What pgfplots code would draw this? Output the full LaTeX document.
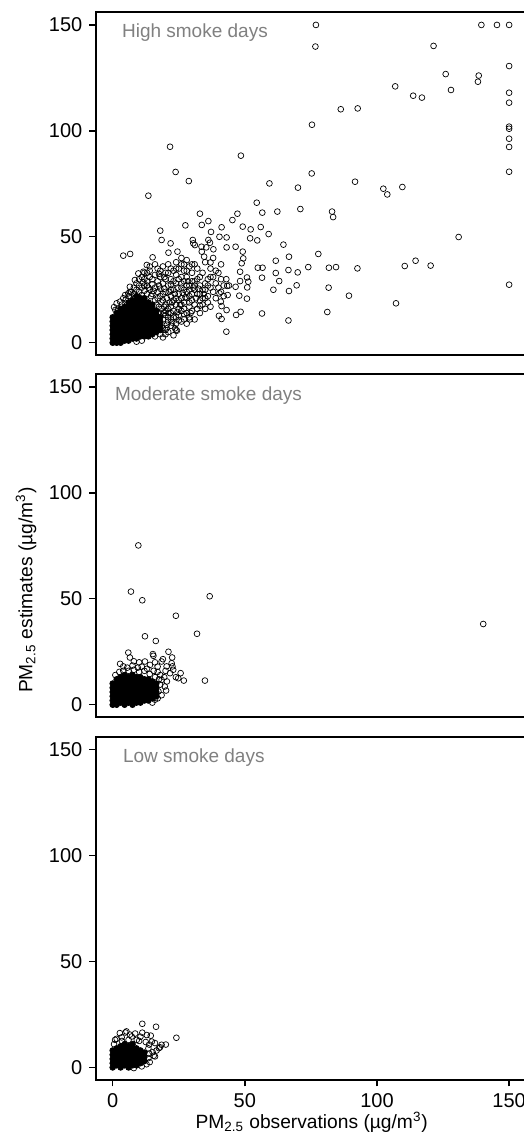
\documentclass[border=0pt]{standalone}
\usepackage{fontspec}
\setmainfont{Liberation Sans}
\usepackage{pgfplots}
\pgfplotsset{compat=1.18}

\definecolor{labgray}{RGB}{128,128,128}

\pgfplotsset{
  smoke/.style={
    scale only axis, width=215.15pt, height=171.5pt,
    anchor=north west,
    xmin=-6.32, xmax=156.5, ymin=-5.8, ymax=156.1,
    ytick={0,50,100,150},
    tick align=outside, xtick pos=left, ytick pos=left,
    axis line style={line width=0.9pt},
    major tick length=3.3pt,
    major tick style={line width=0.7pt, black},
    tick label style={font=\fontsize{10}{12}\selectfont},
    /pgf/number format/assume math mode=true,
  },
  open/.style={only marks, mark=o, mark size=1.45pt,
    mark options={draw=black, line width=0.35pt}},
  dense/.style={only marks, mark=*, mark size=1.45pt,
    mark options={draw=black, fill=black, line width=0.35pt}},
}

\begin{document}
\begin{tikzpicture}

% high smoke days
\begin{axis}[smoke, at={(48pt,-6pt)}, xtick=\empty]
\addplot[dense] coordinates {
(0,0)(0,2)(0,4)(0,6)(0,8)(0,10)(0,12)
(1.5,0)(1.5,2)(1.5,4)(1.5,6)(1.5,8)(1.5,10)(1.5,12)(1.5,14)
(3,0)(3,2)(3,4)(3,6)(3,8)(3,10)(3,12)(3,14)(3,16)
(4.5,1)(4.5,3)(4.5,5)(4.5,7)(4.5,9)(4.5,11)(4.5,13)(4.5,15)(4.5,17)
(6,1)(6,3)(6,5)(6,7)(6,9)(6,11)(6,13)(6,15)(6,17)(6,19)
(7.5,2)(7.5,4)(7.5,6)(7.5,8)(7.5,10)(7.5,12)(7.5,14)(7.5,16)(7.5,18)(7.5,20)
(9,2)(9,4)(9,6)(9,8)(9,10)(9,12)(9,14)(9,16)(9,18)(9,20)(9,22)
(10.5,3)(10.5,5)(10.5,7)(10.5,9)(10.5,11)(10.5,13)(10.5,15)(10.5,17)(10.5,19)(10.5,21)
(12,3)(12,5)(12,7)(12,9)(12,11)(12,13)(12,15)(12,17)(12,19)(12,21)
(13.5,3)(13.5,5)(13.5,7)(13.5,9)(13.5,11)(13.5,13)(13.5,15)(13.5,17)(13.5,19)
(15,4)(15,6)(15,8)(15,10)(15,12)(15,14)(15,16)(15,18)
(16.5,5)(16.5,7)(16.5,9)(16.5,11)(16.5,13)(16.5,15)
(18,6)(18,8)(18,10)(18,12)
};
\addplot[open] coordinates {
(76.9,150)(76.7,139.8)(139.5,150)(145.4,150)(150,150)(121.4,140.1)(150,130.6)
(126,126.8)(138.5,126.1)(138.2,123.2)(128,119.3)(150,118)(150,113.3)(106.9,121)
(113.7,116.6)(117,115.7)(86.3,110.2)(92.7,110.6)(75.4,102.9)(150,102)(150,101)
(150,96.3)(150,92.4)(21.7,92.5)(48.5,88.3)(23.8,80.6)(75.3,79.9)(150,80.7)
(28.8,76.3)(59.3,75.2)(91.7,76)(70.1,73.2)(102.4,72.7)(103.9,70)(109.6,73.5)
(13.5,69.4)(54.5,66.1)(56.6,61.4)(62.3,61.9)(71,63.1)(83,61.9)(83.4,59.3)
(33,60.9)(47.2,60.9)(45.3,57.9)(36.2,57.4)(33.7,55.6)(27.5,55.4)(37.2,52.3)
(41.2,54.5)(49.2,54.8)(52.2,53.5)(56,54.6)(59,51.3)(18,52.9)(40.4,50)(43.1,49.7)
(52,49.3)(54.7,48.3)(36.2,48.5)(18.5,48.5)(130.9,49.9)(150,27.4)(30.3,48.5)
(30.5,46.9)(21.9,46.9)(35.4,45)(38.1,44.1)(43.1,45)(46.5,45.3)(49.2,43)(64.6,46.3)
(21.1,42.5)(24.5,43)(4,41.1)(6.6,41.9)(15.1,40.3)(33.7,43)(34.6,40.6)(37,37.9)
(49.4,39.8)(48.8,37.5)(61.7,38.7)(66.7,40.6)(66.5,34.3)(77.8,41.9)(114.6,38.7)
(110.5,36.2)(120.3,36.4)(74,35.7)(54.9,35.4)(56.7,35.4)(81.8,35.4)(84.5,35.7)
(92.6,35.1)(48.2,33.5)(61.7,32.9)(70,33.2)(50.8,30.8)(51.3,28.8)(48.2,29.1)
(56.5,30.7)(63,29.1)(69.6,27.1)(43.3,26.8)(46.5,26.4)(50.9,26.1)(81.7,26)(60.8,25)
(66.7,24.4)(40.4,23.3)(43.5,22.5)(47.9,22.2)(50.8,20.8)(89.4,22.2)(107.2,18.6)
(40.9,19.4)(41.2,17.3)(43.1,15.4)(48.4,14.6)(46.7,13.1)(56.5,13.8)(81.2,14.5)
(40.2,12.7)(41.2,11.2)(66.5,10.5)(43,5.2)(24.3,5.7)(31.1,46.1)(33.6,45.3)
(36.8,47.2)(12.9,36.7)(9.7,32.7)(11.6,33.5)(8.4,29.6)(6.5,26.4)(4.7,22.5)
(2.8,19.4)(1.5,18.6)(5.9,23.3)
(10,24)(11,26)(12,24.5)(13,27)(14,25)(15,23)(16,26)(17,24)(18,22)(19,20)(20,18)
(21,16)(22,14)(20,24)(21,27)(22,22)(23,20)(24,18)(25,16)(23,25)(24,28)(25,23)
(26,21)(27,19)(26,26)(27,29)(28,24)(29,22)(30,20)(28,31)(29,27)(31,25)(32,23)
(30,33)(31,29)(33,27)(34,25)(32,35)(33,31)(35,28)(36,22)(34,33)(36,30)(37,26)
(38,24)(39,21)(24,32)(25,35)(26,31)(27,34)(22,30)(23,34)(21,33)(20,30)(19,28)
(18,31)(17,29)(16,32)(15,30)(14,31)(13,29)(12,30)(11,31)(17,35)(19,36)(21,37)
(24,38)(27,37)(29,36)(31,37)(26,40)(28,39)(35,38)(37,35)(38,31)(39,28)(40,26)
(41,24)(42,22)(40,33)(43,30)(44,27)(38,40)(41,37)(20,13)(21,10)(23,12)(24,9)
(25,13)(27,11)(26,15)(28,14)(29,17)(30,15)(31,18)(32,16)(33,20)(34,18)(35,21)
(36,19)(29,12)(31,11)(33,14)(35,16)(37,17)(18,9)(19,7)(20,6)(17,6)(22,8)(16,8)
(24,6)(14,5)(13,3.5)(16,3)(9,0.5)(11,1)(20,4)(23.6,6.8)(20.4,6.8)(29.2,11)
(7,24)(8,26)(9,28)(10,27)(8,23)(6,22)(10,30)(12,33)(14,34)(9,25)
(14,10)(15.5,12)(17,14)(18.5,16)(20,15)(21.5,19)(19,23)(17.5,27)(16,20)(14.5,22)
(13,23)(12,27)(11,22.5)(15,27.5)(18,25.5)(20.5,21)(22,25)(23,29)(25,30)(26,28)
(27,25)(28,21)(29,19)(30,23)(31,27)(32,30)(30,37)(28,34)(26,37)(24,35)(22,35)
(20,33)(18,34)(16,37)(14,36)(13,33)(21,12)(22,17)(23,15)(24,21)(25,20)(26,18)
(27,16)(28,27)(30,29)(33,23)(34,21)(35,25)(36,27)(37,31)(39,34)(41,30)(42,27)
(24,12)(26,10)(28,9)(22,11)(19,11)(17.5,17)(19.5,14)(21,5)(19,2.5)(18,4)(23,3.5)
(2,16)(3.5,18)(5,20.5)(6.5,24)(8,21)(4,21)(1,15.5)(0.5,16.8)
(19.5,17)(21,14)(22.5,19)(23.5,23)(21.5,24)(18.5,19)(17,21)(19.5,25.5)(25.5,18)
(24.5,14.5)(26.5,23.5)(27.5,21.5)(29,25)(30.5,26)(27,13.5)(25,10.5)(22.5,9.5)
(20.5,8.5)(18,14)(16.5,18)(15.5,24.5)(13.5,26)(11.5,28.5)(17.5,32.5)(19.5,31)
(22,27.5)(24.5,26)(28.5,29)(32.5,25.5)(31.5,21)(33,17.5)(34.5,23)(29.5,14)
};
\node[anchor=base west, text=labgray, font=\fontsize{9.5}{11}\selectfont,
  xshift=9.5pt, yshift=-12.85pt] at (rel axis cs:0,1) {High smoke days};
\end{axis}

% moderate smoke days
\begin{axis}[smoke, at={(48pt,-187pt)}, xtick=\empty]
\addplot[dense] coordinates {
(0,0)(0,2)(0,4)(0,6)(0,8)(0,10)
(1.5,0)(1.5,2)(1.5,4)(1.5,6)(1.5,8)(1.5,10)(1.5,12)
(3,1)(3,3)(3,5)(3,7)(3,9)(3,11)(3,13)
(4.5,0)(4.5,2)(4.5,4)(4.5,6)(4.5,8)(4.5,10)(4.5,12)(4.5,14)
(6,1)(6,3)(6,5)(6,7)(6,9)(6,11)(6,13)
(7.5,0)(7.5,2)(7.5,4)(7.5,6)(7.5,8)(7.5,10)(7.5,12)(7.5,14)
(9,1)(9,3)(9,5)(9,7)(9,9)(9,11)(9,13)
(10.5,1)(10.5,3)(10.5,5)(10.5,7)(10.5,9)(10.5,11)(10.5,13)
(12,2)(12,4)(12,6)(12,8)(12,10)(12,12)
(13.5,2)(13.5,4)(13.5,6)(13.5,8)(13.5,10)(13.5,12)
(15,3)(15,5)(15,7)(15,9)(15,11)
(16.5,4)(16.5,6)(16.5,8)(16.5,10)
};
\addplot[open] coordinates {
(9.7,75.2)(6.9,53.4)(11.2,49.3)(36.7,51.2)(23.9,42)(31.9,33.5)(12.2,32.3)
(16.3,30.1)(140.2,38.1)(34.9,11.4)(15.2,23.9)(5.9,24.6)(6.5,22.3)(21.1,25)
(22.5,22.3)(25.7,14.9)(26.9,11.4)(20.2,6.7)(22.6,18.1)(21.7,14.9)(23.9,13)
(15.4,23.1)(22.3,19.6)(2.8,19.3)(4,18.1)(12.2,20.4)(14.1,18.8)(18.5,20.4)
(20.4,18.1)(22.9,16.5)(24.8,12.5)(13.5,3)(16,2.4)(8.4,1.6)(11.6,2.4)(18.5,11.7)
(19.7,8.6)(17.3,6.3)
(1,14)(2.5,15.5)(4,16)(6,16)(8,16.5)(10,15.5)(12,16)(14,14.5)(16,13)(17.5,12)
(18,9.5)(18.5,4.5)(17,3)(15,1)(5.5,17.5)(7.5,18.5)(9.5,17.5)(11,18)(13,17)
(15.5,16)(17,15.5)(18,14)(19.5,13)(20.5,11)(20,16)(10,20)(8,20.5)(19,21.5)
(17,18)(16,20)
};
\node[anchor=base west, text=labgray, font=\fontsize{9.5}{11}\selectfont,
  xshift=6pt, yshift=-13pt] at (rel axis cs:0,1) {Moderate smoke days};
\end{axis}

% low smoke days
\begin{axis}[smoke, at={(48pt,-368.35pt)}, xtick={0,50,100,150}]
\addplot[dense] coordinates {
(0,0)(0,2)(0,4)(0,6)(0,8)
(1.5,1)(1.5,3)(1.5,5)(1.5,7)(1.5,9)
(3,0)(3,2)(3,4)(3,6)(3,8)(3,10)
(4.5,1)(4.5,3)(4.5,5)(4.5,7)(4.5,9)(4.5,11)
(6,0)(6,2)(6,4)(6,6)(6,8)(6,10)
(7.5,1)(7.5,3)(7.5,5)(7.5,7)(7.5,9)(7.5,11)
(9,1)(9,3)(9,5)(9,7)(9,9)
(10.5,2)(10.5,4)(10.5,6)(10.5,8)
(12,3)(12,5)(12,7)
};
\addplot[open] coordinates {
(11.2,20.6)(16.4,19.2)(24.1,14)(4.8,16.5)(3.4,14.2)(1.5,13.5)(11.2,16.4)
(12.9,15.3)(14.4,15)(20.1,10.8)(17.9,9.5)(16.6,8)(15.1,7.2)(15.5,5.5)(14.8,12.2)
(13.8,10.8)(2.7,16.2)(5.2,17)(7.2,14.6)(9.1,13)(18.5,10.7)(17.5,9.1)(16,5.2)
(13.5,4.4)(0.9,13)(0.5,11)(6,13)(10,12.5)(12.5,12)(13.5,9)(13.8,6.5)(12.8,1.5)
(11,0.5)(8,-0.3)(14,2.5)(16,11.5)(8.5,16)(6.5,15.5)(10.5,14.5)(3.5,12.5)
};
\node[anchor=base west, text=labgray, font=\fontsize{9.5}{11}\selectfont,
  xshift=10pt, yshift=-12.8pt] at (rel axis cs:0,1) {Low smoke days};
\end{axis}

\node[rotate=90, font=\fontsize{9.6}{11}\selectfont] at (13pt,-295pt)
  {PM\textsubscript{2.5} estimates (µg/m\textsuperscript{3})};
\node[anchor=base, font=\fontsize{9.6}{11}\selectfont] at (155.85pt,-564.2pt)
  {PM\textsubscript{2.5} observations (µg/m\textsuperscript{3})};

\pgfresetboundingbox
\useasboundingbox (0,0) rectangle (262pt,-568.5pt);
\end{tikzpicture}
\end{document}
